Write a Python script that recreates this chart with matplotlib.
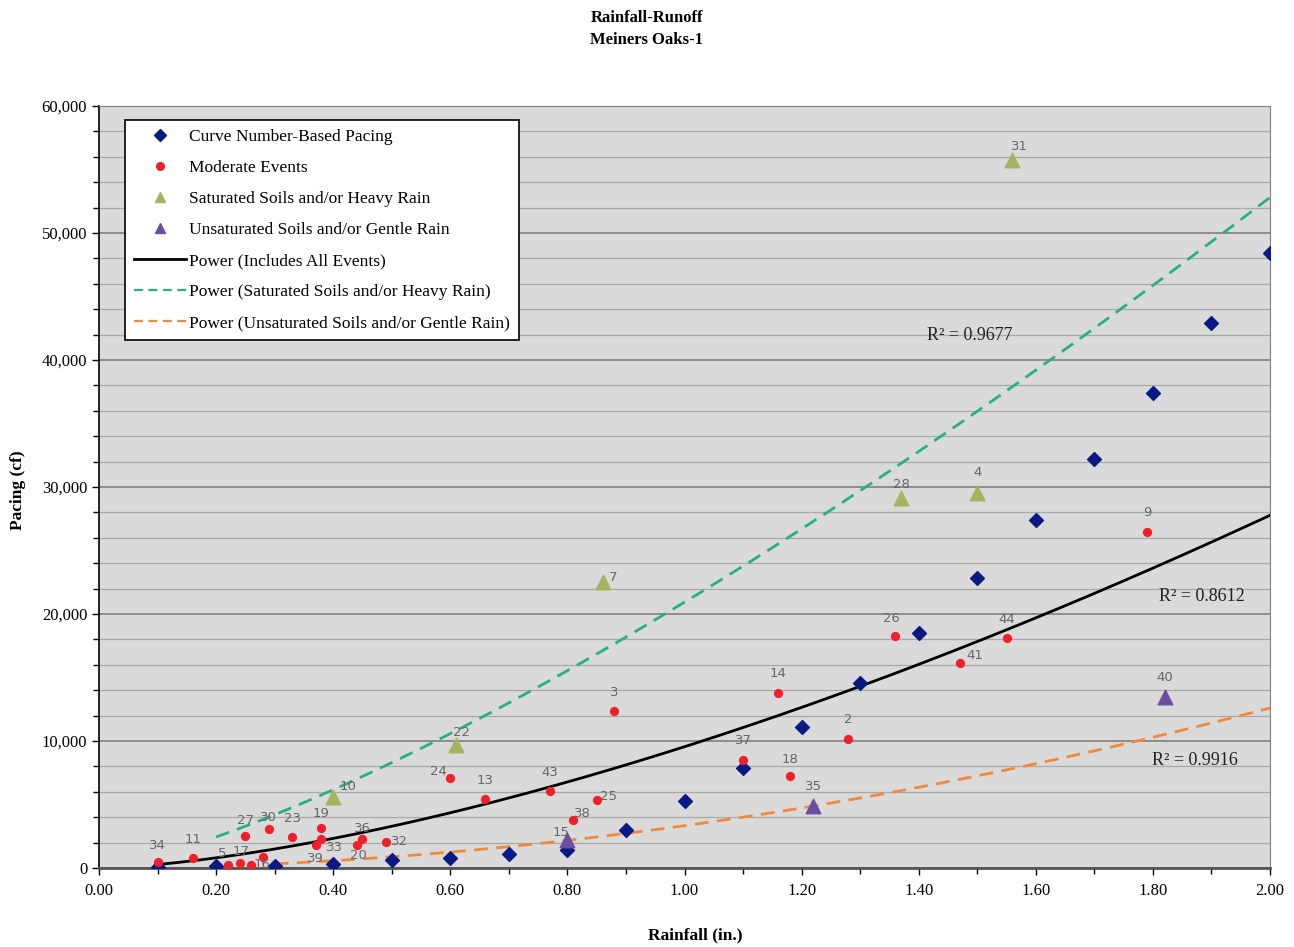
import numpy as np
import matplotlib
matplotlib.use("Agg")
import matplotlib.pyplot as plt
from matplotlib.ticker import MultipleLocator, FuncFormatter
from matplotlib.lines import Line2D

plt.rcParams['font.family'] = ['Liberation Serif', 'DejaVu Serif']

# ---------------- data ----------------
cn_rain = [0.1, 0.2, 0.3, 0.4, 0.5, 0.6, 0.7, 0.8, 0.9, 1.0,
           1.1, 1.2, 1.3, 1.4, 1.5, 1.6, 1.7, 1.8, 1.9, 2.0]
cn_pacing = [100, 120, 150, 350, 600, 800, 1100, 1450, 3000, 5300,
             7900, 11100, 14600, 18500, 22800, 27400, 32200, 37400, 42900, 48400]

mod_labels = ['34', '11', '5', '17', '27', '16', '', '30', '23', '19', '33', '39',
              '36', '20', '32', '24', '13', '43', '25', '38', '3', '14', '37',
              '18', '2', '26', '41', '44', '9']
mod_rain = [0.10, 0.16, 0.22, 0.24, 0.25, 0.26, 0.28, 0.29, 0.33, 0.38, 0.38, 0.37,
            0.45, 0.44, 0.49, 0.60, 0.66, 0.77, 0.85, 0.81, 0.88, 1.16, 1.10,
            1.18, 1.28, 1.36, 1.47, 1.55, 1.79]
mod_pacing = [480, 800, 250, 400, 2520, 250, 870, 3070, 2440, 3150, 2280, 1810,
              2280, 1810, 2050, 7090, 5430, 6060, 5350, 3780, 12360, 13780, 8500,
              7240, 10160, 18270, 16140, 18110, 26460]

sat_labels = ['10', '22', '7', '28', '4', '31']
sat_rain = [0.40, 0.61, 0.86, 1.37, 1.50, 1.56]
sat_pacing = [5590, 9690, 22520, 29130, 29530, 55750]

uns_labels = ['15', '35', '40']
uns_rain = [0.80, 1.22, 1.82]
uns_pacing = [2200, 4880, 13460]

# power trendlines y = a * x^b  (coefficients)
fit_all = dict(a=9550, b=1.54, x0=0.10, x1=2.0, r2='0.8612')
fit_sat = dict(a=20930, b=1.335, x0=0.20, x1=2.0, r2='0.9677')
fit_uns = dict(a=3332, b=1.919, x0=0.30, x1=2.0, r2='0.9916')

# label offsets (pixels) -- styling only
off = {
    '34': (0, 16), '11': (0, 18), '5': (-6, 11), '17': (2, 11), '27': (0, 15),
    '16': (11, 0), '30': (0, 12), '23': (0, 19), '19': (0, 14), '33': (13, -8),
    '39': (0, -13), '36': (0, 11), '20': (2, -10), '32': (14, 0), '24': (-12, 6),
    '13': (0, 19), '43': (0, 19), '25': (12, 4), '38': (9, 6), '3': (0, 19),
    '14': (0, 19), '37': (0, 20), '18': (0, 17), '2': (0, 19), '26': (-4, 17),
    '41': (15, 8), '44': (0, 19), '9': (0, 19),
    '10': (15, 11), '22': (5, 12), '7': (11, 4), '28': (0, 14), '4': (0, 20),
    '31': (7, 13), '15': (-6, 8), '35': (0, 20), '40': (0, 20),
}

# ---------------- figure ----------------
fig = plt.figure(figsize=(12.94, 9.47), dpi=100)
fig.patch.set_facecolor('white')
ax = fig.add_axes([99 / 1294, 79 / 947, 1171 / 1294, 762 / 947])
ax.set_facecolor('#dadada')

ax.set_xlim(0, 2.0)
ax.set_ylim(0, 60000)
ax.xaxis.set_major_locator(MultipleLocator(0.2))
ax.xaxis.set_minor_locator(MultipleLocator(0.1))
ax.yaxis.set_major_locator(MultipleLocator(10000))
ax.yaxis.set_minor_locator(MultipleLocator(2000))
ax.xaxis.set_major_formatter(FuncFormatter(lambda v, p: f'{v:.2f}'))
ax.yaxis.set_major_formatter(FuncFormatter(lambda v, p: f'{int(round(v)):,}'))
ax.tick_params(axis='both', which='major', direction='out', length=5, width=1,
               labelsize=12, colors='black')
ax.tick_params(axis='both', which='minor', direction='out', length=4, width=1)
ax.tick_params(axis='x', pad=6)

ax.grid(axis='y', which='major', color='#808080', lw=1.2, zorder=0)
ax.grid(axis='y', which='minor', color='#a8a8a8', lw=0.9, zorder=0)
ax.set_axisbelow(True)

ax.spines['left'].set_color('black')
ax.spines['left'].set_linewidth(1.2)
ax.spines['bottom'].set_color('#555555')
ax.spines['bottom'].set_linewidth(2)
ax.spines['top'].set_color('#808080')
ax.spines['right'].set_color('#808080')

# trendlines
c_all, c_sat, c_uns = 'black', '#2aae88', '#f08a3a'
for f, col, ls in [(fit_all, c_all, '-'),
                   (fit_sat, c_sat, (0, (5, 3))),
                   (fit_uns, c_uns, (0, (5, 3)))]:
    xs = np.linspace(f['x0'], f['x1'], 200)
    ax.plot(xs, f['a'] * xs ** f['b'], color=col, ls=ls, lw=2, zorder=3)

# markers
ax.scatter(cn_rain, cn_pacing, marker='D', s=50, color='#0b1a82', zorder=5)
ax.scatter(mod_rain, mod_pacing, marker='o', s=32, color='#f0202a', zorder=5)
ax.scatter(sat_rain, sat_pacing, marker='^', s=110, color='#a5b45e', zorder=5)
ax.scatter(uns_rain, uns_pacing, marker='^', s=110, color='#6a4fa0', zorder=5)

lab_kw = dict(textcoords='offset pixels', ha='center', va='center', fontsize=9.5,
              color='#666666', family=['DejaVu Sans'], zorder=6)
for labs, xs, ys in [(mod_labels, mod_rain, mod_pacing),
                     (sat_labels, sat_rain, sat_pacing),
                     (uns_labels, uns_rain, uns_pacing)]:
    for t, x, y in zip(labs, xs, ys):
        if t:
            ax.annotate(t, (x, y), xytext=off.get(t, (0, 16)), **lab_kw)

# R^2 labels
r2_kw = dict(fontsize=13, ha='center', va='center', color='#222222', zorder=6)
ax.text(1.488, 41900, f"R² = {fit_sat['r2']}", **r2_kw)
ax.text(1.884, 21350, f"R² = {fit_all['r2']}", **r2_kw)
ax.text(1.872, 8500, f"R² = {fit_uns['r2']}", **r2_kw)

# legend
handles = [
    Line2D([], [], ls='none', marker='D', ms=6, color='#0b1a82'),
    Line2D([], [], ls='none', marker='o', ms=5.5, color='#f0202a'),
    Line2D([], [], ls='none', marker='^', ms=7.5, color='#a5b45e'),
    Line2D([], [], ls='none', marker='^', ms=7.5, color='#6a4fa0'),
    Line2D([], [], color=c_all, lw=2),
    Line2D([], [], color=c_sat, lw=1.6, ls=(0, (4, 2.5))),
    Line2D([], [], color=c_uns, lw=1.6, ls=(0, (4, 2.5))),
]
labels = ['Curve Number-Based Pacing', 'Moderate Events',
          'Saturated Soils and/or Heavy Rain', 'Unsaturated Soils and/or Gentle Rain',
          'Power (Includes All Events)', 'Power (Saturated Soils and/or Heavy Rain)',
          'Power (Unsaturated Soils and/or Gentle Rain)']
leg = ax.legend(handles, labels, loc='upper left', bbox_to_anchor=(0.0222, 0.9816),
                borderaxespad=0, fontsize=12.5, frameon=True, fancybox=False,
                edgecolor='black', framealpha=1, handlelength=3.0, handletextpad=0.2,
                labelspacing=0.86, borderpad=0.5)
leg.get_frame().set_linewidth(1.2)
leg.set_zorder(10)

# titles
fig.text(0.5, 1 - 18 / 947, 'Rainfall-Runoff', ha='center', va='center',
         fontsize=12, fontweight='bold')
fig.text(0.5, 1 - 40 / 947, 'Meiners Oaks-1', ha='center', va='center',
         fontsize=12, fontweight='bold')
fig.text(18 / 1294, 1 - 490 / 947, 'Pacing (cf)', rotation=90, ha='center',
         va='center', fontsize=12.5, fontweight='bold')
fig.text(695 / 1294, 1 - 935 / 947, 'Rainfall (in.)', ha='center', va='center',
         fontsize=12.5, fontweight='bold')

fig.savefig('out.png', dpi=100)
